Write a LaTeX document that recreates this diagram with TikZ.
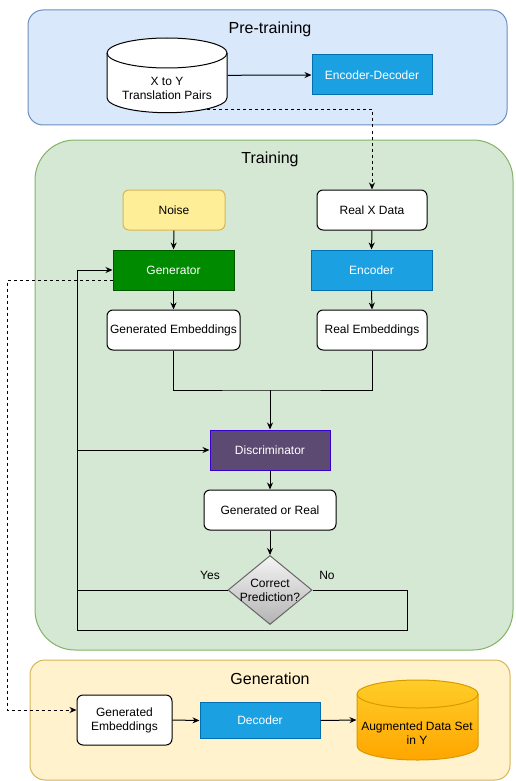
\documentclass[tikz,border=0pt]{standalone}
\usepackage{fontspec}
\setmainfont{Liberation Sans}
\usetikzlibrary{shapes.geometric,arrows.meta,calc}
\definecolor{preFill}{HTML}{DAE8FC}
\definecolor{preDraw}{HTML}{6C8EBF}
\definecolor{trFill}{HTML}{D5E8D4}
\definecolor{trDraw}{HTML}{82B366}
\definecolor{gnFill}{HTML}{FFF2CC}
\definecolor{gnDraw}{HTML}{D6B656}
\definecolor{noiseFill}{HTML}{FFEE98}
\definecolor{blueFill}{HTML}{1BA1E2}
\definecolor{blueDraw}{HTML}{006EAF}
\definecolor{greenFill}{HTML}{008A00}
\definecolor{greenDraw}{HTML}{005700}
\definecolor{discFill}{HTML}{5C4A72}
\definecolor{discDraw}{HTML}{3700CC}
\definecolor{diaTop}{HTML}{F5F5F5}
\definecolor{diaBot}{HTML}{B3B3B3}
\definecolor{diaDraw}{HTML}{666666}
\definecolor{goldTop}{HTML}{FFCD28}
\definecolor{goldBot}{HTML}{FFA500}
\definecolor{goldDraw}{HTML}{D79B00}
\begin{document}
\begin{tikzpicture}[x=1pt,y=1pt,line width=1pt,
  >={Stealth[length=7pt,width=6pt]},
  txt/.style={font=\fontsize{12}{14}\selectfont, align=center},
  ttl/.style={font=\fontsize{16}{19}\selectfont},
  rbox/.style={draw=black, fill=white, rounded corners=6pt, minimum height=40pt, inner sep=0pt, txt},
  sbox/.style={minimum height=40pt, inner sep=0pt, txt, text=white},
  bluebox/.style={sbox, fill=blueFill, draw=blueDraw},
  conn/.style={draw=black, line width=1pt},
  dconn/.style={draw=black, line width=1pt, dashed, dash pattern=on 3pt off 3pt}
]
\useasboundingbox (0,0) rectangle (516,-781);

% group backgrounds
\draw[fill=preFill, draw=preDraw, rounded corners=15pt] (28,-10) rectangle (507,-125);
\node[ttl] (tpre) at (270,-29) {Pre-training};
\draw[fill=trFill, draw=trDraw, rounded corners=40pt] (35,-140) rectangle (513,-650);
\node[ttl] (ttr) at (270,-159) {Training};
\draw[fill=gnFill, draw=gnDraw, rounded corners=15pt] (30,-660) rectangle (510,-780);
\node[ttl] (tgn) at (270,-679) {Generation};

% pre-training cylinder
\draw[fill=white, draw=black] (107,-53) -- (107,-97.7) arc[start angle=180, end angle=360, x radius=60, y radius=15]
  -- (227,-53) arc[start angle=0, end angle=180, x radius=60, y radius=15] -- cycle;
\draw (107,-53) arc[start angle=180, end angle=360, x radius=60, y radius=15];
\node[inner sep=0pt, minimum width=120pt, minimum height=75pt] (cyl) at (167,-75.3) {};
\node[txt] (cyltxt) at (167,-88.5) {X to Y\\Translation Pairs};
\coordinate (cylbot) at (207,-109.5);
\node[bluebox, minimum width=120pt] (encdec) at (372,-75) {Encoder-Decoder};

% training nodes
\node[rbox, fill=noiseFill, draw=gnDraw, minimum width=102pt] (noise) at (174,-210) {Noise};
\node[rbox, minimum width=110pt] (realx) at (372,-210) {Real X Data};
\node[sbox, fill=greenFill, draw=greenDraw, minimum width=121pt] (gen) at (173.5,-270) {Generator};
\node[bluebox, minimum width=121pt] (enc) at (371.5,-270) {Encoder};
\node[rbox, minimum width=133pt] (genemb) at (173.5,-330) {Generated Embeddings};
\node[rbox, minimum width=110pt] (realemb) at (372,-330) {Real Embeddings};
\node[sbox, fill=discFill, draw=discDraw, minimum width=120pt] (disc) at (270,-450) {Discriminator};
\node[rbox, minimum width=132pt] (gor) at (270,-510) {Generated or Real};
\node[diamond, draw=diaDraw, top color=diaTop, bottom color=diaBot, minimum width=84pt, minimum height=69pt, inner sep=0pt] (dia) at (270,-590) {};
\node[txt, inner sep=0pt] (diatxt) at (270,-590) {Correct\\Prediction?};
\node[txt] (yes) at (210,-575) {Yes};
\node[txt] (no) at (327,-575) {No};

% generation nodes
\node[rbox, minimum width=95pt, minimum height=50pt] (ge2) at (124.5,-720) {Generated\\Embeddings};
\node[bluebox, minimum width=120pt, minimum height=36pt] (dec) at (260,-720.5) {Decoder};
\shade[top color=goldTop, bottom color=goldBot] (357,-694) -- (357,-746) arc[start angle=180, end angle=360, x radius=60.5, y radius=14]
  -- (478,-694) arc[start angle=0, end angle=180, x radius=60.5, y radius=14] -- cycle;
\draw[draw=goldDraw] (357,-694) -- (357,-746) arc[start angle=180, end angle=360, x radius=60.5, y radius=14]
  -- (478,-694) arc[start angle=0, end angle=180, x radius=60.5, y radius=14] -- cycle;
\draw[draw=goldDraw] (357,-694) arc[start angle=180, end angle=360, x radius=60.5, y radius=14];
\node[inner sep=0pt, minimum width=121pt, minimum height=80pt] (aug) at (417.5,-720) {};
\node[txt] (augtxt) at (417,-733) {Augmented Data Set\\in Y};

% connectors
\draw[conn,->] (cyl.east) -- (encdec.west);
\draw[dconn,->] (cylbot) -| (realx.north);
\draw[conn,->] (noise.south) -- (gen.north);
\draw[conn,->] (realx.south) -- (enc.north);
\draw[conn,->] (gen.south) -- (genemb.north);
\draw[conn,->] (enc.south) -- (realemb.north);
\coordinate (merge) at (270,-390);
\draw[conn] (genemb.south) |- (merge) -| (realemb.south);
\draw[conn,->] (merge) -- (disc.north);
\draw[conn,->] (disc.south) -- (gor.north);
\draw[conn,->] (gor.south) -- (dia.north);
\coordinate (yesc) at (77,-590);
\draw[conn,->] (dia.west) -- (yesc) |- (gen.west);
\coordinate (noa) at (407,-590);
\coordinate (nob) at (407,-630);
\coordinate (noc) at (77,-630);
\draw[conn,->] (dia.east) -- (noa) -- (nob) -- (noc) |- (disc.west);
\coordinate (dsa) at (7,-280);
\coordinate (dsb) at (7,-710);
\draw[dconn,->] ($(gen.west)+(0,-10)$) -- (dsa) -- (dsb) -- ($(ge2.west)+(0,10)$);
\draw[conn,->] (ge2.east) -- (dec.west);
\draw[conn,->] (dec.east) -- (aug.west);
\end{tikzpicture}
\end{document}
